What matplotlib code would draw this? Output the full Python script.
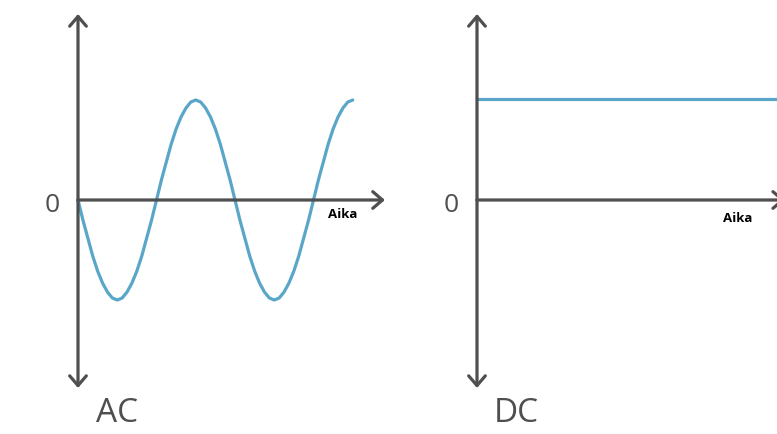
import matplotlib.pyplot as plt

# AC-signaali: aika neljännesjaksoina (1/32 jakson välein), arvot luettu kuvasta
ac_aika = [i * 0.125 for i in range(57)]
ac_arvo = [0, -0.2, -0.38, -0.56, -0.71, -0.83, -0.92, -0.98, -1,
           -0.98, -0.92, -0.83, -0.71, -0.56, -0.38, -0.2, 0,
           0.2, 0.38, 0.56, 0.71, 0.83, 0.92, 0.98, 1,
           0.98, 0.92, 0.83, 0.71, 0.56, 0.38, 0.2, 0,
           -0.2, -0.38, -0.56, -0.71, -0.83, -0.92, -0.98, -1,
           -0.98, -0.92, -0.83, -0.71, -0.56, -0.38, -0.2, 0,
           0.2, 0.38, 0.56, 0.71, 0.83, 0.92, 0.98, 1]

# DC-signaali
dc_aika = [0, 7.8]
dc_arvo = [1.01, 1.01]

otsikot = ["AC", "DC"]
x_nimi = "Aika"

sininen = "#5aa6c9"
harmaa = "#4f4f4f"

fig = plt.figure(figsize=(7.77, 4.34), dpi=100)
fig.patch.set_facecolor("white")


def akselit(ax, xmax, xnuoli):
    ax.set_xlim(xmax[0], xmax[1])
    ax.set_ylim(-2.34, 2.0)
    ax.axis("off")
    nuoli = dict(arrowstyle="->,head_length=0.35,head_width=0.3", color=harmaa,
                 lw=2.3, mutation_scale=20, shrinkA=0, shrinkB=0)
    ax.annotate("", xy=(0, 1.86), xytext=(0, 0), arrowprops=nuoli, annotation_clip=False)
    ax.annotate("", xy=(0, -1.88), xytext=(0, 0), arrowprops=nuoli, annotation_clip=False)
    ax.annotate("", xy=(xnuoli, 0), xytext=(0, 0), arrowprops=nuoli, annotation_clip=False)
    ax.text(-0.65, -0.05, "0", fontsize=19, color=harmaa, family="Open Sans",
            ha="center", va="center")


# vasen: AC
ax1 = fig.add_axes([0, 0, 400 / 777, 1])
akselit(ax1, (-78 / 39.25, (400 - 78) / 39.25), 7.82)
ax1.plot(ac_aika, ac_arvo, color=sininen, lw=2.3, solid_capstyle="round",
         solid_joinstyle="round")
ax1.text(6.75, -0.15, x_nimi, fontsize=9.5, fontweight="bold", family="Open Sans",
         ha="center", va="center", color="black")
ax1.text(0.99, -2.14, otsikot[0], fontsize=24, color=harmaa, family="Open Sans",
         ha="center", va="center")

# oikea: DC
ax2 = fig.add_axes([400 / 777, 0, 377 / 777, 1])
akselit(ax2, (-77 / 39.25, (377 - 77) / 39.25), 7.85)
ax2.plot(dc_aika, dc_arvo, color=sininen, lw=2.3)
ax2.text(6.65, -0.18, x_nimi, fontsize=9.5, fontweight="bold", family="Open Sans",
         ha="center", va="center", color="black")
ax2.text(0.99, -2.14, otsikot[1], fontsize=24, color=harmaa, family="Open Sans",
         ha="center", va="center")

fig.savefig("out.png", dpi=100)
